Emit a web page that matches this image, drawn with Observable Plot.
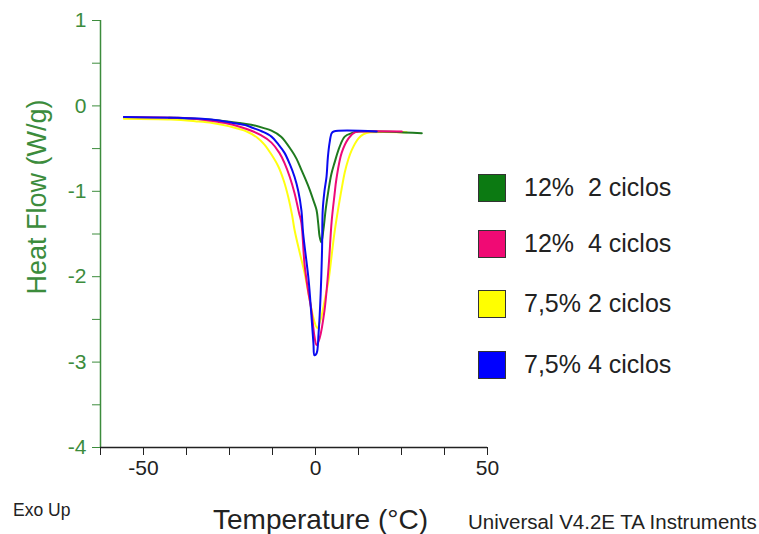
<!DOCTYPE html>
<html>
<head>
<meta charset="utf-8">
<script src="https://cdn.jsdelivr.net/npm/d3@7"></script>
<script src="https://cdn.jsdelivr.net/npm/@observablehq/plot@0.6"></script>
<style>
  html, body { margin: 0; padding: 0; background: #fff; }
  #wrap { position: relative; width: 759px; height: 534px; font-family: "Liberation Sans", Arial, sans-serif; }
  #wrap svg { position: absolute; left: 0; top: 0; }
  .lab { position: absolute; white-space: nowrap; }
  .leg { position: absolute; left: 478px; display: flex; align-items: center; }
  .sw { width: 28px; height: 28px; border: 1.5px solid #333; box-sizing: border-box; margin-right: 18px; }
  .lt { font-size: 25px; color: #222; white-space: pre; }
</style>
</head>
<body>
<div id="wrap"></div>
<script>
// Series names and colours
const seriesNames = ["12%  2 ciclos", "12%  4 ciclos", "7,5% 2 ciclos", "7,5% 4 ciclos"];
const seriesColors = ["#1f7a1f", "#ee0a78", "#ffff10", "#0a0af0"];
const legendColors = ["#0c7a12", "#f00a74", "#ffff00", "#0000ff"];

// 12% 2 ciclos (green)
const g12c2T = [-42.6, -35, -28, -22, -18.7, -15, -12.8, -10, -7, -5.5, -4.1, -2.8, -1.7, -0.5, 0.3, 0.8, 1.2, 1.7, 2.3, 3.0, 3.8, 4.6, 5.5, 7, 8.5, 10.5, 12.5, 30.9];
const g12c2H = [-0.14, -0.15, -0.17, -0.20, -0.22, -0.26, -0.29, -0.36, -0.52, -0.62, -0.75, -0.87, -0.98, -1.12, -1.22, -1.38, -1.53, -1.60, -1.45, -1.20, -0.98, -0.80, -0.67, -0.48, -0.36, -0.32, -0.30, -0.32];
// 12% 4 ciclos (pink)
const p12c4T = [-55.7, -40, -33, -28, -24, -20, -16, -12.8, -10.5, -9, -7.5, -6.1, -4.8, -4.1, -3.2, -2.2, -1.2, -0.3, 0.3, 1.2, 2.6, 3.8, 4.7, 5.5, 6.1, 7.6, 9.6, 11.4, 14, 25.1];
const p12c4H = [-0.13, -0.14, -0.16, -0.19, -0.22, -0.27, -0.34, -0.43, -0.55, -0.67, -0.83, -1.02, -1.25, -1.37, -1.85, -2.15, -2.39, -2.70, -2.80, -2.72, -2.40, -1.89, -1.35, -1.05, -0.85, -0.55, -0.38, -0.31, -0.30, -0.30];
// 7,5% 2 ciclos (yellow)
const y75c2T = [-55.7, -42, -35, -30, -25, -20, -17, -14.9, -12.8, -10.8, -9.2, -7.9, -6.8, -6.1, -4.7, -3.2, -1.8, -0.5, 0.5, 1.5, 2.8, 3.8, 4.7, 5.5, 6.7, 7.6, 8.5, 9.5, 10.5, 12.5, 14, 16, 26.5];
const y75c2H = [-0.15, -0.16, -0.18, -0.20, -0.24, -0.30, -0.37, -0.45, -0.57, -0.71, -0.88, -1.07, -1.28, -1.45, -1.70, -1.95, -2.25, -2.50, -2.60, -2.50, -2.25, -2.04, -1.75, -1.49, -1.18, -0.97, -0.78, -0.63, -0.52, -0.38, -0.33, -0.31, -0.31];
// 7,5% 4 ciclos (blue)
const b75c4T = [-55.7, -40, -33, -28, -24, -20, -18.7, -15.5, -12.8, -10.8, -9, -7.5, -6.1, -5, -4.1, -3.6, -2.0, -1.2, -0.6, -0.3, 0.3, 0.9, 1.5, 1.9, 2.1, 2.6, 3.2, 3.6, 4.1, 4.7, 5.3, 17.8];
const b75c4H = [-0.13, -0.14, -0.15, -0.17, -0.20, -0.23, -0.25, -0.30, -0.36, -0.45, -0.55, -0.68, -0.83, -1.00, -1.22, -1.49, -2.04, -2.45, -2.78, -2.92, -2.90, -2.66, -2.20, -1.69, -1.22, -1.00, -0.83, -0.60, -0.43, -0.32, -0.30, -0.30];

// Tick values
const xTicks = [-62.5, -50, -37.5, -25, -12.5, 0, 12.5, 25, 37.5, 50];
const xTickLabels = [-50, 0, 50];
const yTicks = [-4, -3.5, -3, -2.5, -2, -1.5, -1, -0.5, 0, 0.5, 1];
const yTickLabels = [-4, -3, -2, -1, 0, 1];

const seriesT = [g12c2T, p12c4T, y75c2T, b75c4T];
const seriesH = [g12c2H, p12c4H, y75c2H, b75c4H];
const rows = [];
seriesT.forEach((T, s) => T.forEach((t, i) => rows.push({s: seriesNames[s], t, h: seriesH[s][i]})));
const drawOrder = [2, 0, 1, 3];

const axisGreen = "#3c8c3c";
const chart = Plot.plot({
  width: 759,
  height: 534,
  marginLeft: 100,
  marginRight: 272,
  marginTop: 20,
  marginBottom: 87,
  style: {fontFamily: '"Liberation Sans", Arial, sans-serif', background: "transparent"},
  x: {domain: [-62.5, 50], label: null},
  y: {domain: [-4, 1], label: null},
  marks: [
    Plot.axisY({ticks: yTicks, tickSize: 8, tickPadding: 6, color: axisGreen, fontSize: 21,
      tickFormat: d => yTickLabels.includes(d) ? String(d) : "", label: null}),
    Plot.ruleX([-62.5], {stroke: axisGreen, strokeWidth: 1.5}),
    Plot.axisX({ticks: xTicks, tickSize: 8, tickPadding: 5, color: "#222", fontSize: 21,
      tickFormat: d => xTickLabels.includes(d) ? String(d) : "", label: null}),
    Plot.ruleY([-4], {stroke: "#222", strokeWidth: 1.5}),
    ...drawOrder.map(k => Plot.line(rows.filter(r => r.s === seriesNames[k]),
      {x: "t", y: "h", stroke: seriesColors[k], strokeWidth: 2, curve: "catmull-rom"}))
  ]
});
const wrap = document.getElementById("wrap");
wrap.appendChild(chart);

function addLabel(text, css) {
  const d = document.createElement("div");
  d.className = "lab";
  d.textContent = text;
  Object.assign(d.style, css);
  wrap.appendChild(d);
}
addLabel("Heat Flow (W/g)", {left: "37px", top: "197px", fontSize: "27px", color: axisGreen,
  transform: "translate(-50%, -50%) rotate(-90deg)"});
addLabel("Temperature (°C)", {left: "213px", top: "504px", fontSize: "28px", color: "#222"});
addLabel("Exo Up", {left: "13px", top: "500px", fontSize: "17.5px", color: "#222"});
addLabel("Universal V4.2E TA Instruments", {left: "468px", top: "510px", fontSize: "20.5px", color: "#222"});

const legendY = [189, 245, 305, 366];
seriesNames.forEach((n, i) => {
  const row = document.createElement("div");
  row.className = "leg";
  row.style.top = (legendY[i] - 16) + "px";
  const sw = document.createElement("div");
  sw.className = "sw";
  sw.style.background = legendColors[i];
  const t = document.createElement("span");
  t.className = "lt";
  t.textContent = n;
  row.appendChild(sw);
  row.appendChild(t);
  wrap.appendChild(row);
});
</script>
</body>
</html>
